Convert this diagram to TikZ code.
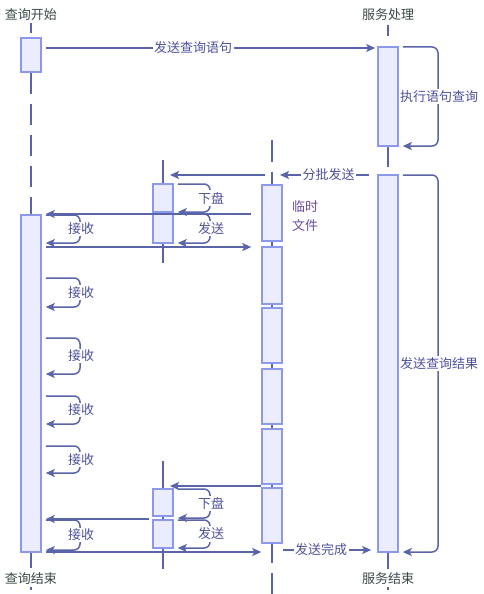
\documentclass[tikz,border=0pt]{standalone}
\usepackage{fontspec}
\setmainfont{Noto Sans CJK SC}
\usetikzlibrary{arrows.meta,calc}
\definecolor{lc}{HTML}{5A64A8}
\definecolor{boxb}{HTML}{8C98EA}
\definecolor{boxf}{HTML}{ECECFF}
\definecolor{titc}{HTML}{3A4A48}
\definecolor{labc}{HTML}{4C5299}
\definecolor{purp}{HTML}{6A4C9C}
\tikzset{
  act/.style={draw=boxb, fill=boxf, line width=1.6pt, minimum width=20pt, inner sep=0pt},
  life/.style={draw=lc, line width=1.5pt},
  msg/.style={draw=lc, line width=1.5pt, -{Stealth[length=9pt,width=8pt,inset=2pt]}},
  lbl/.style={fill=white, inner sep=1.5pt, text=labc},
  ttl/.style={text=titc, inner sep=1pt}
}
\newcommand\selfmsg[5]{%
  \draw[msg, rounded corners=6pt] ([xshift=4pt]#1.east |- 0,#2) -- (#4,#2) -- (#4,#3) -- ([xshift=4pt]#1.east |- 0,#3);
  \node[lbl] at (#4+1, {(#2+#3)/2}) {#5};}
\begin{document}
\begin{tikzpicture}[x=1pt,y=-1pt,font=\fontsize{13}{15}\selectfont]
\useasboundingbox[fill=white] (0,0) rectangle (483,594);
% titles
\node[ttl] (t1) at (31,15) {查询开始};
\node[ttl] (t2) at (388,15) {服务处理};
\node[ttl] (t3) at (31,579) {查询结束};
\node[ttl] (t4) at (388,579) {服务结束};
% lifelines
\draw[life] (31,23) -- (31,33);
\draw[life, dash pattern=on 21pt off 10pt] (31,73) -- (31,215);
\draw[life] (31,553) -- (31,568);
\draw[life] (31,587) -- (31,590);
\draw[life] (388,25) -- (388,36);
\draw[life] (388,146) -- (388,167);
\draw[life] (388,553) -- (388,569);
\draw[life] (388,587) -- (388,590);
\draw[life] (272,140) -- (272,162);
\draw[life] (272,172) -- (272,563);
\draw[life] (272,573) -- (272,594);
\draw[life] (163,160) -- (163,263);
\draw[life] (163,461) -- (163,569);
% activation boxes
\node[act, minimum height=34pt] (L1) at (31,55) {};
\node[act, minimum height=337pt] (L2) at (31,383.5) {};
\node[act, minimum height=99pt] (R1) at (388,96.5) {};
\node[act, minimum height=377pt] (R2) at (388,363.5) {};
\node[act, minimum height=28pt] (C1) at (163,198) {};
\node[act, minimum height=29pt] (C2) at (163,228.5) {};
\node[act, minimum height=27pt] (C3) at (163,502.5) {};
\node[act, minimum height=28pt] (C4) at (163,534) {};
\node[act, minimum height=56pt] (M1) at (272,213) {};
\node[act, minimum height=57pt] (M2) at (272,275.5) {};
\node[act, minimum height=55pt] (M3) at (272,335.5) {};
\node[act, minimum height=55pt] (M4) at (272,396.5) {};
\node[act, minimum height=55pt] (M5) at (272,456.5) {};
\node[act, minimum height=55pt] (M6) at (272,515.5) {};
% messages
\draw[msg] ([xshift=4pt]L1.east |- 0,48) -- ([xshift=-2pt]R1.west |- 0,48) node[lbl, pos=0.447] {发送查询语句};
\selfmsg{R1}{47}{146}{438}{执行语句查询}
\draw[msg] ([xshift=-8pt]R2.west |- 0,175) -- ([xshift=8pt]M1.north |- 0,175) node[lbl, pos=0.456] {分批发送};
\draw[msg] ([xshift=-7pt]M1.north |- 0,175) -- ([xshift=7pt]C1.north |- 0,175);
\selfmsg{C1}{184}{212}{210}{下盘}
\draw[msg] ([xshift=-10pt]M1.west |- 0,214) -- ([xshift=4pt]L2.east |- 0,214);
\selfmsg{L2}{215}{243}{80}{接收}
\selfmsg{C2}{214}{243}{210}{发送}
\draw[msg] ([xshift=4pt]L2.east |- 0,247) -- ([xshift=-10pt]M2.west |- 0,247);
\selfmsg{L2}{278}{307}{80}{接收}
\selfmsg{L2}{338}{374}{80}{接收}
\selfmsg{L2}{396}{424}{80}{接收}
\selfmsg{L2}{446}{473}{80}{接收}
\draw[msg] (M5.south west |- 0,486) -- ([xshift=7pt]C3.north |- 0,486);
\selfmsg{C3}{489}{518}{210}{下盘}
\draw[msg] ([xshift=-3pt]C4.west |- 0,519) -- ([xshift=4pt]L2.east |- 0,519);
\selfmsg{L2}{520}{550}{80}{接收}
\selfmsg{C4}{520}{548}{210}{发送}
\draw[msg] ([xshift=4pt]L2.east |- 0,552) -- (M6.west |- 0,552);
\draw[msg] (M6.east |- 0,550) -- ([xshift=-6pt]R2.west |- 0,550) node[lbl, pos=0.433] {发送完成};
\selfmsg{R2}{175}{552}{438}{发送查询结果}
% note text
\node[text=purp, align=left, inner sep=0pt, font=\fontsize{13}{19}\selectfont] (note) at (305,216) {临时\\文件};
\end{tikzpicture}
\end{document}
